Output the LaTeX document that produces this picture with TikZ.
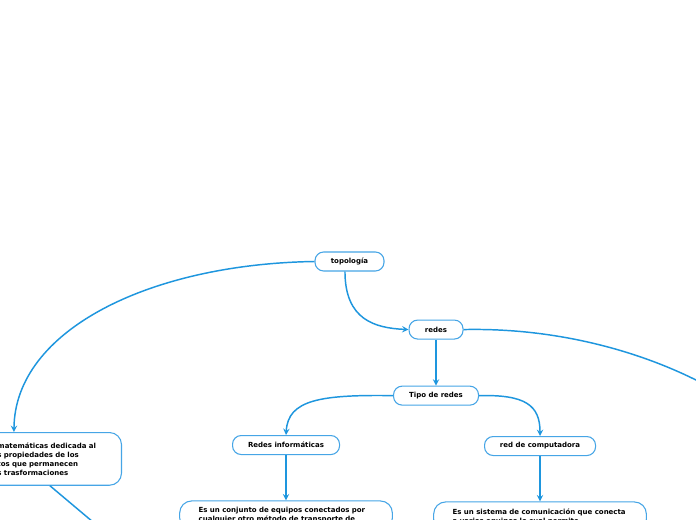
\documentclass[tikz,border=0pt]{standalone}
\usepackage{fontspec}
\setmainfont{DejaVu Sans}
\usetikzlibrary{arrows, positioning}
\definecolor{linkblue}{RGB}{30,150,222}
\definecolor{boxblue}{RGB}{70,165,230}

\begin{document}
\begin{tikzpicture}[x=0.75pt, y=-0.75pt, node distance=36pt,
    topic/.style={rectangle, rounded corners=6.5pt, draw=boxblue, line width=0.8pt, fill=white, minimum height=14.25pt, text centered, font=\fontsize{5.25}{6.75}\selectfont\bfseries},
    note/.style={rectangle, rounded corners=9pt, draw=boxblue, line width=0.8pt, fill=white, text width=131pt, inner xsep=14.25pt, inner ysep=5pt, align=left, font=\fontsize{5.25}{6.75}\selectfont\bfseries},
    arrow/.style={line width=1.1pt, draw=linkblue, ->, >=stealth},
    link/.style={line width=1.1pt, draw=linkblue}]
\useasboundingbox (0,0) rectangle (696,520);
\clip (0,0) rectangle (696,520);
\fill [white] (0,0) rectangle (696,520);
\node (topologia) [topic, minimum width=51.75pt] at (349.5,261.5) {topología};
\node (redes) [topic, minimum width=40.5pt, below=36pt of topologia, xshift=64.9pt] {redes};
\node (tipo) [topic, minimum width=63.75pt, below=34.5pt of redes] {Tipo de redes};
\node (redesinf) [topic, minimum width=80.25pt, below=22pt of tipo, xshift=-112.5pt] {Redes informáticas};
\node (redcomp) [topic, minimum width=83.25pt, below=22.75pt of tipo, xshift=78pt] {red de computadora};
\node (defcon) [note, below=34pt of redesinf] {Es un conjunto de equipos conectados por\\ cualquier otro método de transporte de};
\node (sysdef) [note, below=34pt of redcomp] {Es un sistema de comunicación que conecta\\ a varios equipos lo cual permite};
\node (topodef) [note, text width=78.75pt, inner ysep=7.5pt, anchor=north east] at (122,432) {matemáticas dedicada al\\ s propiedades de los\\ tos que permanecen\\ s trasformaciones};
\coordinate (offright) at (760,420);
\coordinate (offdown) at (102.5,530);
\draw [arrow] (topologia.west) .. controls (150,264) and (15,330) .. ([xshift=27pt]topodef.north west);
\draw [arrow] ([xshift=-3.4pt]topologia.south) .. controls (345,320) and (375,328) .. (redes.west);
\draw [link] (redes.east) .. controls (580,327) and (690,365) .. (offright);
\draw [arrow] (redes) -- (tipo);
\draw [arrow] (tipo.west) .. controls (320,394.5) and (288,400) .. (redesinf.north);
\draw [arrow] (tipo.east) .. controls (525,394.5) and (540,405) .. (redcomp.north);
\draw [arrow] (redesinf) -- (defcon);
\draw [arrow] (redcomp) -- (sysdef);
\draw [link] (topodef.south) -- (offdown);
\end{tikzpicture}
\end{document}
